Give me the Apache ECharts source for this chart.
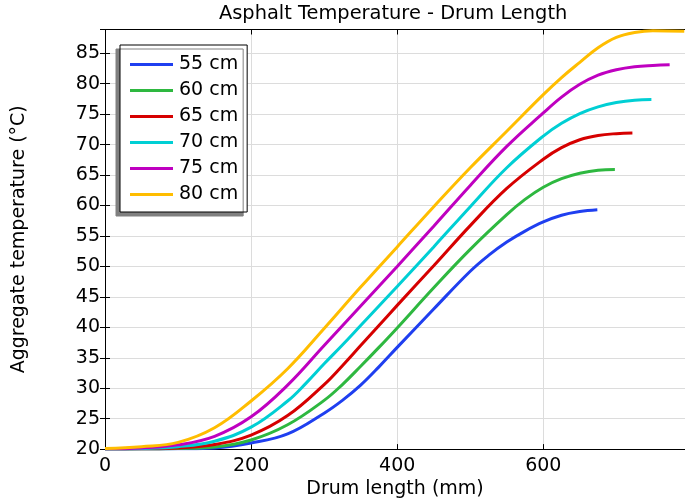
<!DOCTYPE html>
<html>
<head>
<meta charset="utf-8">
<script src="https://cdn.jsdelivr.net/npm/echarts@6/dist/echarts.min.js"></script>
<style>
html,body{margin:0;padding:0;background:#fff;}
#c{width:685px;height:504px;}
</style>
</head>
<body>
<div id="c"></div>
<script>
// Data (drum length in mm, temperature in °C)
const seriesNames = ['55 cm', '60 cm', '65 cm', '70 cm', '75 cm', '80 cm'];
const x55 = [0, 50, 100, 150, 200, 250, 300, 325, 350, 375, 400, 450, 500, 525, 550, 575, 600, 625, 650, 674];
const t55 = [20.0, 20.0, 20.05, 20.2, 21.0, 22.5, 25.9, 28.0, 30.5, 33.5, 36.7, 43.0, 49.2, 51.8, 54.0, 55.8, 57.3, 58.4, 59.0, 59.3];
const x60 = [0, 50, 100, 150, 200, 250, 300, 325, 350, 375, 400, 450, 500, 550, 575, 600, 625, 650, 675, 698];
const t60 = [20.0, 20.0, 20.1, 20.35, 21.5, 24.0, 28.0, 30.6, 33.6, 36.7, 39.9, 46.5, 52.8, 58.5, 61.0, 63.0, 64.4, 65.3, 65.8, 65.9];
const x65 = [0, 50, 100, 150, 200, 250, 300, 325, 350, 375, 400, 450, 500, 550, 600, 625, 650, 675, 700, 722];
const t65 = [20.0, 20.05, 20.2, 20.75, 22.3, 25.5, 30.6, 33.7, 37.0, 40.3, 43.6, 50.1, 56.7, 62.8, 67.6, 69.5, 70.8, 71.5, 71.8, 71.9];
const x70 = [0, 50, 100, 150, 200, 250, 275, 300, 325, 350, 400, 450, 500, 550, 600, 625, 650, 675, 700, 725, 748];
const t70 = [20.0, 20.1, 20.4, 21.3, 23.6, 27.9, 30.8, 34.0, 37.1, 40.3, 46.7, 53.2, 59.8, 66.2, 71.4, 73.5, 75.1, 76.2, 76.9, 77.3, 77.4];
const x75 = [0, 50, 100, 150, 200, 250, 300, 350, 400, 450, 500, 550, 600, 625, 650, 675, 700, 725, 750, 773];
const t75 = [20.05, 20.2, 20.7, 22.1, 25.3, 30.5, 37.0, 43.5, 50.0, 56.6, 63.3, 69.7, 75.2, 77.8, 79.9, 81.4, 82.3, 82.8, 83.0, 83.1];
const x80 = [0, 50, 100, 150, 200, 250, 300, 350, 400, 450, 500, 550, 600, 625, 650, 675, 700, 725, 750, 793];
const t80 = [20.1, 20.4, 21.1, 23.5, 27.9, 33.2, 39.8, 46.6, 53.2, 59.8, 66.2, 72.2, 78.2, 81.0, 83.5, 85.9, 87.6, 88.4, 88.7, 88.6];

const xs = [x55, x60, x65, x70, x75, x80];
const ts = [t55, t60, t65, t70, t75, t80];
const colors = ['#1f3ff0', '#2eb840', '#d60000', '#00cfd4', '#bf00c0', '#ffbd00'];

const FONT = 'DejaVu Sans';
const FS = 19;

const chart = echarts.init(document.getElementById('c'), null, {renderer: 'canvas'});

const series = seriesNames.map((name, i) => ({
  name: name,
  type: 'line',
  data: xs[i].map((x, j) => [x, ts[i][j]]),
  showSymbol: false,
  smooth: 0.4,
  lineStyle: {width: 3, color: colors[i]},
  itemStyle: {color: colors[i]},
  emphasis: {disabled: true},
  z: 3
}));

const option = {
  animation: false,
  backgroundColor: '#ffffff',
  textStyle: {fontFamily: FONT},
  title: {
    text: 'Asphalt Temperature - Drum Length',
    left: 219,
    top: 4,
    padding: 0,
    textStyle: {fontFamily: FONT, fontSize: 19.4, fontWeight: 'normal', color: '#000'}
  },
  legend: {
    orient: 'vertical',
    left: 120,
    top: 45,
    padding: [10, 9, 8, 10],
    itemGap: 7,
    itemWidth: 43,
    itemHeight: 3,
    icon: 'rect',
    backgroundColor: '#ffffff',
    borderColor: '#000000',
    borderWidth: 1,
    borderRadius: 0,
    shadowColor: '#808080',
    shadowBlur: 0,
    shadowOffsetX: -4,
    shadowOffsetY: 4,
    textStyle: {fontFamily: FONT, fontSize: FS, color: '#000', padding: [0, 0, 0, 1]},
    data: seriesNames
  },
  grid: {left: 105, top: 29.5, width: 580, bottom: 51.3, containLabel: false},
  xAxis: [{
    type: 'value',
    min: 0,
    max: 794,
    interval: 200,
    name: 'Drum length (mm)',
    nameLocation: 'middle',
    nameGap: 25,
    nameTextStyle: {fontFamily: FONT, fontSize: FS, color: '#000'},
    axisLine: {show: true, lineStyle: {color: '#000', width: 1}},
    axisTick: {show: true, inside: true, length: 5, lineStyle: {color: '#000'}},
    axisLabel: {fontFamily: FONT, fontSize: FS, color: '#000', margin: 7, showMaxLabel: false},
    splitLine: {show: true, lineStyle: {color: '#dcdcdc', width: 1}}
  }, {
    type: 'value',
    position: 'top',
    min: 0,
    max: 794,
    interval: 200,
    axisLine: {show: true, lineStyle: {color: '#000', width: 1}},
    axisTick: {show: true, inside: true, length: 5, lineStyle: {color: '#000'}},
    axisLabel: {show: false},
    splitLine: {show: false}
  }],
  yAxis: [{
    type: 'value',
    min: 20,
    max: 88.9,
    interval: 5,
    name: 'Aggregate temperature (°C)',
    nameLocation: 'middle',
    nameGap: 76,
    nameTextStyle: {fontFamily: FONT, fontSize: FS, color: '#000'},
    axisLine: {show: true, lineStyle: {color: '#000', width: 1}},
    axisTick: {show: true, inside: true, length: 5, lineStyle: {color: '#000'}},
    axisLabel: {fontFamily: FONT, fontSize: FS, color: '#000', margin: 5, showMaxLabel: false},
    splitLine: {show: true, lineStyle: {color: '#dcdcdc', width: 1}}
  }, {
    type: 'value',
    position: 'right',
    min: 20,
    max: 88.9,
    interval: 5,
    axisLine: {show: true, lineStyle: {color: '#000', width: 1}},
    axisTick: {show: true, inside: true, length: 5, lineStyle: {color: '#000'}},
    axisLabel: {show: false},
    splitLine: {show: false}
  }],
  series: series
};

chart.setOption(option);
</script>
</body>
</html>
